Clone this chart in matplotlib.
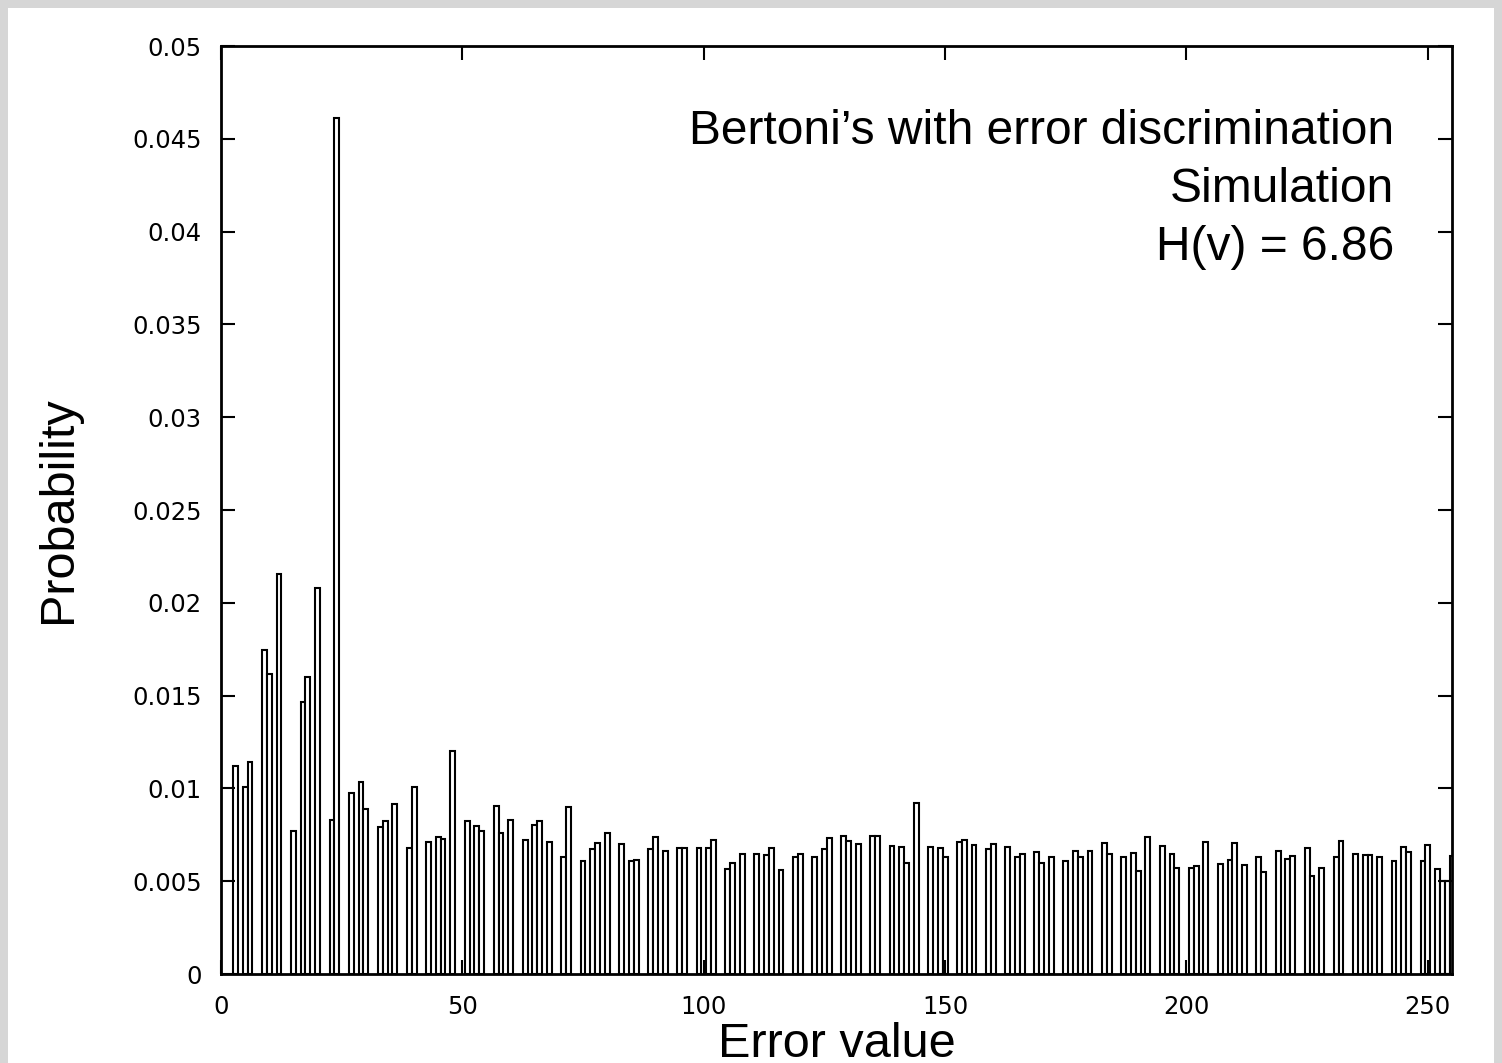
"""
Histogram of error values: Bertoni's with error discrimination (simulation).
"""

import matplotlib
matplotlib.use('Agg')
import matplotlib.pyplot as plt
from matplotlib.patches import Rectangle

# error values with a non-zero probability (all the others are 0)
error_values = [3, 5, 6, 9, 10, 12, 15, 17, 18, 20, 23, 24, 27, 29, 30, 33, 34, 36,
                39, 40, 43, 45, 46, 48, 51, 53, 54, 57, 58, 60, 63, 65, 66, 68, 71, 72,
                75, 77, 78, 80, 83, 85, 86, 89, 90, 92, 95, 96, 99, 101, 102, 105, 106,
                108, 111, 113, 114, 116, 119, 120, 123, 125, 126, 129, 130, 132, 135,
                136, 139, 141, 142, 144, 147, 149, 150, 153, 154, 156, 159, 160, 163,
                165, 166, 169, 170, 172, 175, 177, 178, 180, 183, 184, 187, 189, 190,
                192, 195, 197, 198, 201, 202, 204, 207, 209, 210, 212, 215, 216, 219,
                221, 222, 225, 226, 228, 231, 232, 235, 237, 238, 240, 243, 245, 246,
                249, 250, 252, 253, 254, 255]
probabilities = [0.01121, 0.01009, 0.01142, 0.01746, 0.01616, 0.02155, 0.00772, 0.01464,
                 0.01598, 0.0208, 0.00828, 0.04612, 0.00973, 0.01033, 0.00887, 0.00794,
                 0.00822, 0.00914, 0.00677, 0.01006, 0.00713, 0.00736, 0.00726, 0.01202,
                 0.00823, 0.00799, 0.00769, 0.00903, 0.00761, 0.00828, 0.00720, 0.00801,
                 0.00822, 0.00713, 0.00632, 0.00898, 0.00611, 0.00673, 0.00704, 0.00758,
                 0.00702, 0.00611, 0.00616, 0.00675, 0.00740, 0.00664, 0.00681, 0.00681,
                 0.00681, 0.00677, 0.00721, 0.00567, 0.00600, 0.00647, 0.00647, 0.00643,
                 0.00681, 0.00562, 0.00628, 0.00647, 0.00632, 0.00675, 0.00734, 0.00745,
                 0.00718, 0.00702, 0.00745, 0.00745, 0.00691, 0.00686, 0.00600, 0.00920,
                 0.00686, 0.00681, 0.00632, 0.00713, 0.00724, 0.00697, 0.00675, 0.00702,
                 0.00686, 0.00632, 0.00647, 0.00659, 0.00600, 0.00628, 0.00611, 0.00664,
                 0.00628, 0.00664, 0.00707, 0.00647, 0.00628, 0.00654, 0.00557, 0.00740,
                 0.00691, 0.00647, 0.00573, 0.00573, 0.00584, 0.00713, 0.00594, 0.00616,
                 0.00707, 0.00587, 0.00628, 0.00551, 0.00664, 0.00621, 0.00638, 0.00681,
                 0.00528, 0.00573, 0.00628, 0.00718, 0.00647, 0.00643, 0.00643, 0.00632,
                 0.00609, 0.00683, 0.00659, 0.00611, 0.00693, 0.00564, 0.00503, 0.00503,
                 0.00636]

x_ticks = [0, 50, 100, 150, 200, 250]
y_ticks = [0, 0.005, 0.01, 0.015, 0.02, 0.025, 0.03, 0.035, 0.04, 0.045, 0.05]
y_tick_labels = ['0', '0.005', '0.01', '0.015', '0.02', '0.025', '0.03', '0.035',
                 '0.04', '0.045', '0.05']
info_lines = ['Bertoni\u2019s with error discrimination', 'Simulation', 'H(v) = 6.86']

W, H = 1502, 1063
fig = plt.figure(figsize=(W / 100, H / 100), dpi=100, facecolor='#d6d6d6')
# white slide area inside a grey shadow border (drawn behind the axes)
fig.patches.append(Rectangle((8 / W, 0), (W - 16) / W, (H - 8) / H,
                             transform=fig.transFigure, facecolor='white',
                             edgecolor='none', zorder=-10))

ax = fig.add_axes([221 / W, 1 - 974 / H, (1452 - 221) / W, (974 - 46) / H])
ax.set_facecolor('white')

ax.bar(error_values, probabilities, width=1.0, facecolor='white',
       edgecolor='black', linewidth=1.5)

ax.set_xlim(0, 255)
ax.set_ylim(0, 0.05)
ax.set_xticks(x_ticks)
ax.set_yticks(y_ticks)
ax.set_yticklabels(y_tick_labels)

for s in ax.spines.values():
    s.set_linewidth(2.0)

ax.tick_params(axis='both', direction='in', length=10, width=1.5,
               top=True, right=True, labelsize=17.5)
ax.tick_params(axis='y', pad=14)
ax.tick_params(axis='x', pad=15)

ax.set_ylabel('Probability', family='Liberation Sans', fontsize=35, labelpad=37)
ax.set_xlabel('Error value', family='Liberation Sans', fontsize=35, labelpad=2)

baselines = [0.8944, 0.8319, 0.7694]
for line, yb in zip(info_lines, baselines):
    ax.text(0.9529, yb, line, transform=ax.transAxes, ha='right', va='baseline',
            family='Liberation Sans', fontsize=34.5)

fig.savefig('out.png', dpi=100, facecolor=fig.get_facecolor())
